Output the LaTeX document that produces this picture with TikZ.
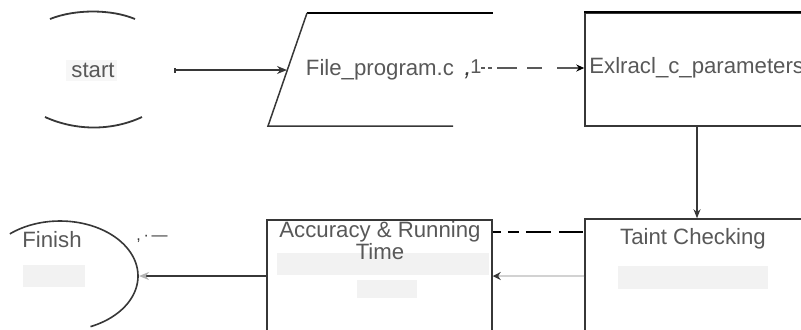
\documentclass[tikz,border=0pt]{standalone}
\usepackage{fontspec}
\setmainfont{Liberation Sans}
\usetikzlibrary{arrows.meta,fit}
\definecolor{txt}{RGB}{88,88,88}
\definecolor{edge}{RGB}{55,55,55}

\begin{document}
\begin{tikzpicture}[x=0.5pt,y=-0.5pt,
  lbl/.style={text=txt,font=\fontsize{11.1}{10.6}\selectfont,inner sep=0pt},
  frame/.style={draw=edge,line width=0.75pt,inner sep=0pt},
  ghost/.style={fill=gray!10,draw=none},
  link/.style={draw=edge,line width=0.75pt},
  tip/.style={-{Stealth[length=4.5pt,width=3.5pt]}}]
\useasboundingbox (0,0) rectangle (801,329);
\clip (0,0) rectangle (801,329);

% faint smudges below some labels
\fill[ghost] (618,266) rectangle (768,289);
\fill[ghost] (23,265) rectangle (85,287);
\fill[ghost] (277,253) rectangle (489,275);
\fill[ghost] (357,280) rectangle (417,298);
\fill[gray!6] (66,60) rectangle (117,81);

% start terminal (only its top and bottom arcs)
\node[lbl] (start) at (93,70) {start};
\draw[edge,line width=0.9pt] (50,19) .. controls (75,9) and (111,9) .. (135,19);
\draw[edge,line width=0.9pt] (45,117) .. controls (76,131) and (112,131) .. (142,117);
\coordinate (starttail) at (174,70);

% input parallelogram
\draw[line width=1pt] (307,13) -- (493,13);
\draw[edge,line width=0.75pt] (307,13) -- (268,126) -- (453,126);
\coordinate (filein) at (287,70);
\node[lbl] (file) at (380,70) {File\_program.c};
\node[text=edge,font=\fontsize{13}{13}\selectfont\itshape,inner sep=0pt] (comma) at (468,76) {,};
\node[text=txt,font=\fontsize{10}{10}\selectfont,inner sep=0pt] (one) at (476,67) {1};
\coordinate (dashstart) at (481,68);

% extraction step
\node[frame, fit={(585,13) (830,126)}] (extract) {};
\draw[line width=1pt] (extract.north west) -- (extract.north east);
\node[lbl, anchor=west] (extracttxt) at (589,68) {Exlracl\_c\_parameters};

% taint checking step
\node[frame, fit={(585,219) (830,361)}] (taint) {};
\node[lbl] (tainttxt) at (693,239) {Taint Checking};

% accuracy step
\node[frame, fit={(267,220) (492,360)}] (accuracy) {};
\node[lbl, align=center] (acctxt) at (380,240.5) {Accuracy \& Running\\Time};

% finish terminal (right-hand arc)
\draw[edge,line width=0.8pt] plot[domain=130:-67,samples=80,smooth] ({60+78*cos(\x)},{276-55*sin(\x)});
\coordinate (finish) at (139,276);
\node[lbl] (finishtxt) at (52,240) {Finish};
\node[text=edge,font=\fontsize{8}{8}\selectfont,inner sep=0pt] (marks) at (152,239) {,\,·\,—};

% connectors
\draw[link,{Bar[width=2.5pt]}-{Stealth[length=5pt,width=4pt]}] (starttail) -- (filein);
\draw[gray!70!black,line width=0.9pt,
      dash pattern=on 2pt off 1.5pt on 2pt off 2.5pt on 10pt off 5pt on 7.5pt off 7.5pt on 20pt,
      -{Stealth[length=4pt,width=3.5pt,black]}]
  (dashstart) -- (dashstart -| extract.west);
\draw[link,tip] ([xshift=-5.25pt]extract.south) -- ([xshift=-5.25pt]taint.north);
\draw[black,line width=1pt,
      dash pattern=on 4pt off 3.5pt on 5.5pt off 3.5pt on 12.5pt off 4pt on 12pt]
  ([yshift=29pt]accuracy.east) -- ([yshift=29pt]taint.west);
\draw[gray!35,line width=0.6pt,-{Stealth[length=4pt,width=4pt,edge]}]
  ([yshift=7pt]taint.west) -- ([yshift=7pt]accuracy.east);
\draw[link,-{Stealth[length=5pt,width=4pt,gray!60]}]
  ([yshift=7pt]accuracy.west) -- (finish);
\end{tikzpicture}
\end{document}
